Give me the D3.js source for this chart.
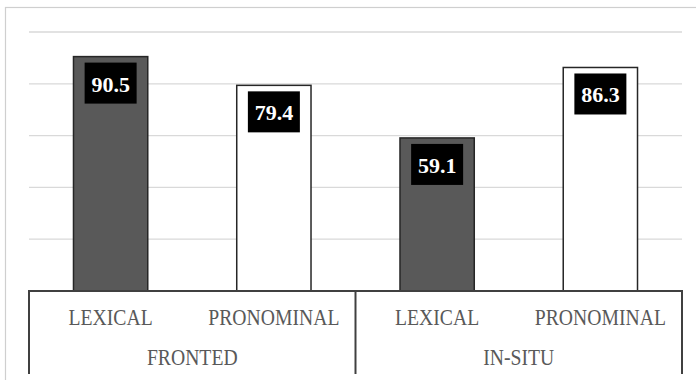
<!DOCTYPE html>
<html><head><meta charset="utf-8">
<script src="https://cdn.jsdelivr.net/npm/d3@7"></script>
<style>html,body{margin:0;padding:0;background:#fff}svg{display:block}</style>
</head><body>
<svg id="c" width="696" height="380"></svg>
<script>
const categories = ["LEXICAL", "PRONOMINAL", "LEXICAL", "PRONOMINAL"];
const groups = ["FRONTED", "IN-SITU"];
const values = [90.5, 79.4, 59.1, 86.3];
const seriesKind = ["lexical", "pronominal", "lexical", "pronominal"];
const yTicks = [0, 20, 40, 60, 80, 100];

(function () {
const svg = d3.select("#c");
const plotL = 29, plotR = 682, plotT = 32, plotB = 291, axisBottom = 374;

// outer chart frame
svg.append("rect").attr("x", 5.5).attr("y", 7.5).attr("width", 720).attr("height", 400)
  .attr("fill", "none").attr("stroke", "#cfcfcf").attr("stroke-width", 1.2);

const x = d3.scaleBand().domain(d3.range(categories.length)).range([plotL, plotR]).padding(0);
const y = d3.scaleLinear().domain([0, 100]).range([plotB, plotT]);
const barW = x.bandwidth() * 0.455;
const fill = d3.scaleOrdinal().domain(["lexical", "pronominal"]).range(["#595959", "#ffffff"]);

// gridlines
svg.append("g").selectAll("line").data(yTicks.filter(t => t > 0)).join("line")
  .attr("x1", plotL).attr("x2", plotR)
  .attr("y1", d => y(d)).attr("y2", d => y(d))
  .attr("stroke", "#d9d9d9").attr("stroke-width", 1.3);

// bars
svg.append("g").selectAll("rect").data(values).join("rect")
  .attr("x", (d, i) => x(i) + x.bandwidth() / 2 - barW / 2)
  .attr("y", d => y(d))
  .attr("width", barW)
  .attr("height", d => y(0) - y(d))
  .attr("fill", (d, i) => fill(seriesKind[i]))
  .attr("stroke", "#262626").attr("stroke-width", 1.5);

// value labels
const lab = svg.append("g").selectAll("g").data(values).join("g")
  .attr("transform", (d, i) => `translate(${x(i) + x.bandwidth() / 2},${y(d) + 6})`);
lab.append("rect").attr("x", -26).attr("y", 0).attr("width", 52).attr("height", 41).attr("fill", "#000");
lab.append("text").attr("x", 0).attr("y", 29).attr("text-anchor", "middle")
  .attr("font-family", "'Liberation Serif', 'Times New Roman', serif").attr("font-weight", "bold")
  .attr("font-size", 22).attr("fill", "#fff").text(d => d.toFixed(1));

// axis
const ax = svg.append("g").attr("stroke", "#404040").attr("stroke-width", 2);
ax.append("line").attr("x1", plotL).attr("x2", plotR).attr("y1", plotB).attr("y2", plotB);
const bounds = [0, 2, 4].map(i => i < categories.length ? x(i) : plotR);
ax.selectAll("line.sep").data(bounds).join("line").attr("class", "sep")
  .attr("x1", d => d).attr("x2", d => d).attr("y1", plotB - 1).attr("y2", axisBottom);

// category labels
const tf = "'Liberation Serif', 'Times New Roman', serif";
svg.append("g").selectAll("text").data(categories).join("text")
  .attr("transform", (d, i) => `translate(${x(i) + x.bandwidth() / 2},325) scale(0.82,1)`)
  .attr("text-anchor", "middle").attr("font-family", tf).attr("font-size", 24)
  .attr("fill", "#595959").text(d => d);
svg.append("g").selectAll("text").data(groups).join("text")
  .attr("transform", (d, i) => `translate(${(bounds[i] + bounds[i + 1]) / 2},365) scale(0.82,1)`)
  .attr("text-anchor", "middle").attr("font-family", tf).attr("font-size", 24)
  .attr("fill", "#595959").text(d => d);
})();
</script>
</body></html>
